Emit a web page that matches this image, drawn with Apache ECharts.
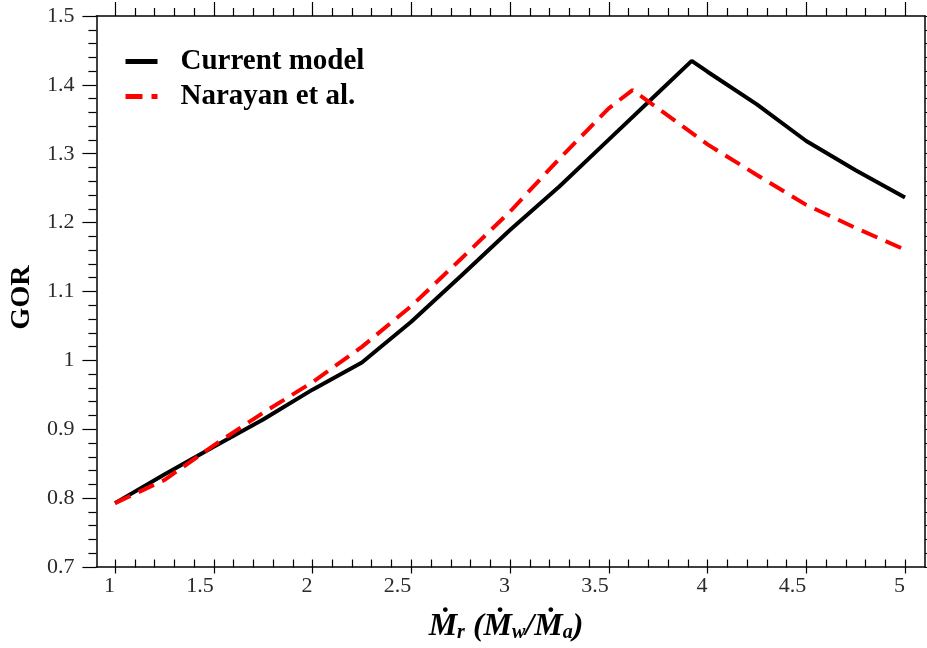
<!DOCTYPE html>
<html>
<head>
<meta charset="utf-8">
<script src="https://cdn.jsdelivr.net/npm/echarts@6/dist/echarts.min.js"></script>
<style>
  html, body { margin: 0; padding: 0; background: #fff; }
  #chart { width: 927px; height: 648px; }
</style>
</head>
<body>
<div id="chart"></div>
<script>
// values
var xCurrent = [1.0, 1.25, 1.5, 1.75, 2.0, 2.25, 2.5, 2.75, 3.0, 3.25, 3.5, 3.75, 3.92, 4.0, 4.25, 4.5, 4.75, 5.0];
var yCurrent = [0.783, 0.825, 0.866, 0.906, 0.950, 0.990, 1.050, 1.117, 1.185, 1.249, 1.318, 1.387, 1.434, 1.418, 1.370, 1.316, 1.273, 1.233];

var xNarayan = [1.0, 1.25, 1.5, 1.75, 2.0, 2.25, 2.5, 2.75, 3.0, 3.25, 3.5, 3.62, 3.75, 4.0, 4.25, 4.5, 4.75, 5.0];
var yNarayan = [0.783, 0.817, 0.868, 0.916, 0.961, 1.013, 1.073, 1.142, 1.212, 1.290, 1.364, 1.391, 1.364, 1.311, 1.266, 1.222, 1.188, 1.156];

var seriesNames = ["Current model", "Narayan et al."];
var xRange = [1, 5], xStep = 0.5;
var yRange = [0.7, 1.5], yStep = 0.1;

function pairs(xs, ys) {
  return xs.map(function (x, i) { return [x, ys[i]]; });
}

var serif = "Liberation Serif";
var frameLine = { show: true, onZero: false, lineStyle: { color: "#000", width: 1.5 } };
var tickStyle = { show: true, inside: false, length: 14, lineStyle: { color: "#000", width: 1.2 } };
var minorStyle = { show: true, splitNumber: 5, length: 8, lineStyle: { color: "#000", width: 1.2 } };
var labelStyle = { fontFamily: serif, fontSize: 22, color: "#2a2a2a" };

var myChart = echarts.init(document.getElementById("chart"));
var option = {
  backgroundColor: "#fff",
  animation: false,
  grid: [
    // outer frame, y ticks live here
    { left: 94, top: 16, width: 831, height: 551 },
    // data area, x from 1 to 5
    { left: 115, top: 16, width: 790, height: 551 }
  ],
  legend: {
    orient: "vertical",
    left: 118,
    top: 42,
    itemWidth: 32,
    itemHeight: 14,
    itemGap: 6,
    data: seriesNames,
    itemStyle: { opacity: 0 },
    lineStyle: { width: 5, type: "inherit", color: "inherit" },
    textStyle: { fontFamily: serif, fontSize: 29, fontWeight: "bold", color: "#000", padding: [0, 0, 0, 18] }
  },
  xAxis: [
    { gridIndex: 0, type: "value", min: 0, max: 1, axisLine: frameLine, axisTick: { show: false }, axisLabel: { show: false }, splitLine: { show: false } },
    { gridIndex: 0, type: "value", position: "top", min: 0, max: 1, axisLine: frameLine, axisTick: { show: false }, axisLabel: { show: false }, splitLine: { show: false } },
    {
      gridIndex: 1, type: "value", min: xRange[0], max: xRange[1], interval: xStep,
      axisLine: { show: false }, axisTick: tickStyle, minorTick: minorStyle,
      splitLine: { show: false },
      axisLabel: Object.assign({ margin: 16, align: "right" }, labelStyle),
      name: "{m|Ṁ}{s|r}{m| (Ṁ}{s|w}{m|/Ṁ}{s|a}{m|)}",
      nameLocation: "middle",
      nameGap: 50,
      nameTextStyle: {
        padding: [0, 8, 0, 0],
        rich: {
          m: { fontFamily: serif, fontSize: 32, fontWeight: "bold", fontStyle: "italic", color: "#000", lineHeight: 34 },
          s: { fontFamily: serif, fontSize: 20, fontWeight: "bold", fontStyle: "italic", color: "#000", lineHeight: 34, padding: [13, 0, 0, 0] }
        }
      }
    },
    {
      gridIndex: 1, type: "value", position: "top", min: xRange[0], max: xRange[1], interval: xStep,
      axisLine: { show: false }, axisTick: tickStyle, minorTick: minorStyle,
      splitLine: { show: false }, axisLabel: { show: false }
    }
  ],
  yAxis: [
    {
      gridIndex: 0, type: "value", min: yRange[0], max: yRange[1], interval: yStep,
      axisLine: frameLine, axisTick: tickStyle, minorTick: minorStyle,
      splitLine: { show: false },
      axisLabel: Object.assign({ margin: 22 }, labelStyle),
      name: "GOR",
      nameLocation: "middle",
      nameRotate: 90,
      nameGap: 60,
      nameTextStyle: { fontFamily: serif, fontSize: 28, fontWeight: "bold", color: "#000", padding: [0, 12, 0, 0] }
    },
    {
      gridIndex: 0, type: "value", position: "right", min: yRange[0], max: yRange[1], interval: yStep,
      axisLine: frameLine, axisTick: tickStyle, minorTick: minorStyle,
      splitLine: { show: false }, axisLabel: { show: false }
    },
    { gridIndex: 1, type: "value", min: yRange[0], max: yRange[1], show: false }
  ],
  series: [
    {
      name: seriesNames[0],
      type: "line",
      xAxisIndex: 2,
      yAxisIndex: 2,
      symbol: "none",
      data: pairs(xCurrent, yCurrent),
      lineStyle: { color: "#000", width: 4 },
      itemStyle: { color: "#000" }
    },
    {
      name: seriesNames[1],
      type: "line",
      xAxisIndex: 2,
      yAxisIndex: 2,
      symbol: "none",
      data: pairs(xNarayan, yNarayan),
      lineStyle: { color: "#ff0000", width: 4, type: [17, 9] },
      itemStyle: { color: "#ff0000" }
    }
  ]
};
myChart.setOption(option);
</script>
</body>
</html>
